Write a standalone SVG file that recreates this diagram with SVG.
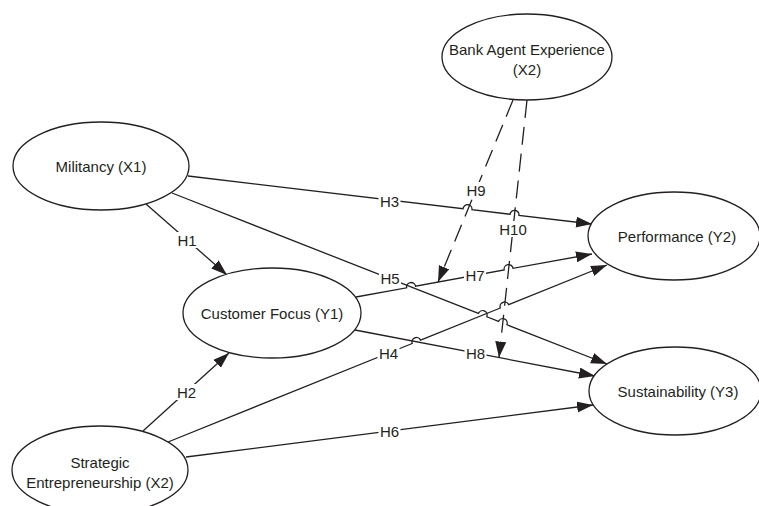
<svg xmlns="http://www.w3.org/2000/svg" width="759" height="506" viewBox="0 0 759 506">
<style>
.node{fill:#fff;stroke:#231f20;stroke-width:1.3}
.t{font-family:"Liberation Sans",Arial,sans-serif;font-size:15px;fill:#231f20;text-anchor:middle}
.e{fill:none;stroke:#231f20;stroke-width:1.3}
.d{stroke-dasharray:18 9}
.lb{fill:#fff;stroke:none}
</style>
<defs>
<marker id="arr" markerUnits="userSpaceOnUse" markerWidth="17" markerHeight="12" refX="16" refY="5.5" orient="auto">
<path d="M0,0 L16,5.5 L0,11 z" fill="#231f20"/>
</marker>
</defs>
<rect width="759" height="506" fill="#fff"/>
<g id="connectors">
<path id="e-h1" class="e" d="M146,204 L227,275" marker-end="url(#arr)"/>
<path id="e-h2" class="e" d="M143,431 L229,353" marker-end="url(#arr)"/>
<path id="e-h3" class="e" d="M188,176 L463.03,208.67 A4.5,4.5 0 0 1 471.97,209.73 L510.03,214.27 A4.5,4.5 0 0 1 518.97,215.33 L592,224" marker-end="url(#arr)"/>
<path id="e-h4" class="e" d="M168,442 L412.23,343.48 A4.5,4.5 0 0 1 420.57,340.12 L500.33,307.98 A4.5,4.5 0 0 1 508.67,304.62 L607,265" marker-end="url(#arr)"/>
<path id="e-h5" class="e" d="M172,193 L478.41,313.45 A4.5,4.5 0 0 1 486.79,316.75 L498.51,321.45 A4.5,4.5 0 0 1 506.89,324.75 L607,364" marker-end="url(#arr)"/>
<path id="e-h6" class="e" d="M186,457 L593,405" marker-end="url(#arr)"/>
<path id="e-h7" class="e" d="M356,297 L406.67,287.81 A4.5,4.5 0 0 1 415.53,286.19 L504.17,269.91 A4.5,4.5 0 0 1 513.03,268.29 L592,254" marker-end="url(#arr)"/>
<path id="e-h8" class="e" d="M355,330 L595,376" marker-end="url(#arr)"/>
<path id="e-h9" class="e d" d="M513,100 L438,282" marker-end="url(#arr)"/>
<path id="e-h10" class="e d" d="M527,100 L499,357.6" marker-end="url(#arr)"/>
<g id="labels">
<rect class="lb" x="176" y="232" width="22" height="16"/><text class="t" x="187" y="245.5">H1</text>
<rect class="lb" x="175.5" y="384" width="22" height="16"/><text class="t" x="186.5" y="397.5">H2</text>
<rect class="lb" x="378.5" y="193.5" width="22" height="16"/><text class="t" x="389.5" y="207">H3</text>
<rect class="lb" x="377.5" y="345" width="22" height="16"/><text class="t" x="388.5" y="358.5">H4</text>
<rect class="lb" x="379" y="270" width="22" height="16"/><text class="t" x="390" y="283.5">H5</text>
<rect class="lb" x="378.5" y="423" width="22" height="16"/><text class="t" x="389.5" y="436.5">H6</text>
<rect class="lb" x="464" y="267" width="22" height="16"/><text class="t" x="475" y="280.5">H7</text>
<rect class="lb" x="464.5" y="345" width="22" height="16"/><text class="t" x="475.5" y="358.5">H8</text>
<rect class="lb" x="465" y="182" width="22" height="16"/><text class="t" x="476" y="195.5">H9</text>
<rect class="lb" x="497.5" y="221" width="31" height="16"/><text class="t" x="513" y="234.5">H10</text>
</g>
</g>
<g id="n-militancy"><ellipse class="node" cx="101" cy="166" rx="88" ry="44"/><text class="t" x="101" y="171.5">Militancy (X1)</text></g>
<g id="n-customer-focus"><ellipse class="node" cx="272" cy="313" rx="89" ry="45"/><text class="t" x="272" y="319">Customer Focus (Y1)</text></g>
<g id="n-strategic"><ellipse class="node" cx="100" cy="470" rx="88" ry="44"/><text class="t" x="100" y="467.5">Strategic</text><text class="t" x="100" y="487.5">Entrepreneurship (X2)</text></g>
<g id="n-bank-agent"><ellipse class="node" cx="527" cy="57" rx="85" ry="43"/><text class="t" x="527" y="55">Bank Agent Experience</text><text class="t" x="527" y="75">(X2)</text></g>
<g id="n-performance"><ellipse class="node" cx="674" cy="236" rx="86" ry="44"/><text class="t" x="677" y="241.5">Performance (Y2)</text></g>
<g id="n-sustainability"><ellipse class="node" cx="675" cy="391" rx="86" ry="44"/><text class="t" x="678" y="397">Sustainability (Y3)</text></g>
</svg>
